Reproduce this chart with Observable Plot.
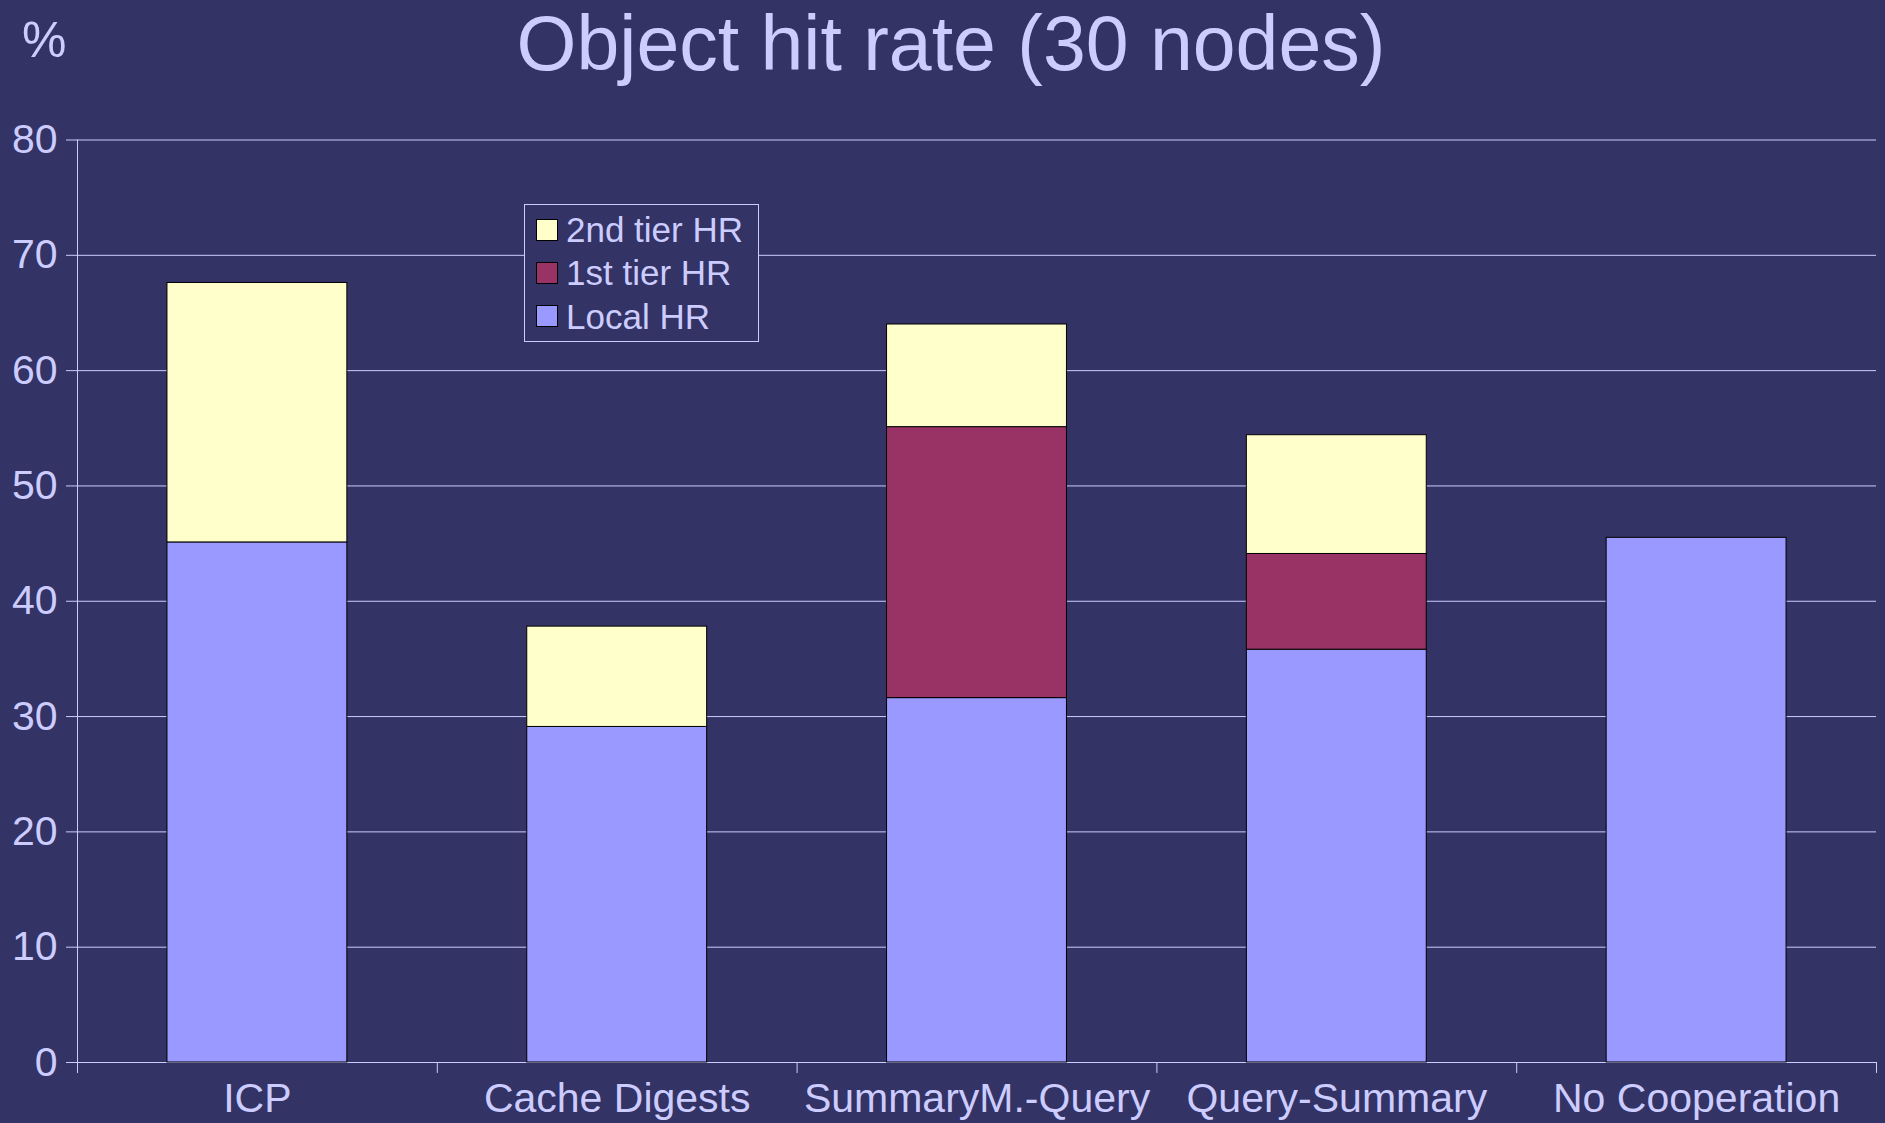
<!DOCTYPE html>
<html><head><meta charset="utf-8">
<script src="https://cdn.jsdelivr.net/npm/d3@7"></script>
<script src="https://cdn.jsdelivr.net/npm/@observablehq/plot@0.6"></script>
<style>
html,body{margin:0;padding:0;background:#333366;}
#wrap{position:relative;width:1885px;height:1123px;overflow:hidden;font-family:"Liberation Sans",Arial,Helvetica,sans-serif;color:#ccccff;}
#chart{position:absolute;left:0;top:0;}
#title{position:absolute;left:0;top:5px;width:1885px;padding-left:17px;box-sizing:border-box;text-align:center;font-size:77px;line-height:77px;white-space:nowrap;}
#unit{position:absolute;left:22px;top:15px;font-size:50px;line-height:50px;}
#legend{position:absolute;left:524px;top:204px;width:235px;height:138px;border:1px solid #ccccff;background:#333366;padding-top:3px;box-sizing:border-box;}
.row{display:flex;align-items:center;height:43.3px;}
.sw{width:20px;height:20px;border:1px solid #000;margin-left:11px;margin-right:8px;}
.lab{font-size:35px;line-height:35px;white-space:nowrap;}
</style></head><body><div id="wrap"><div id="chart"></div><div id="title"></div><div id="unit"></div><div id="legend"></div></div>
<script>
const titleText = "Object hit rate (30 nodes)";
const unitText = "%";
const categories = ["ICP", "Cache Digests", "SummaryM.-Query", "Query-Summary", "No Cooperation"];
const localHR = [45.1, 29.1, 31.6, 35.8, 45.5];
const firstTierHR = [0, 0, 23.5, 8.3, 0];
const secondTierHR = [22.5, 8.7, 8.9, 10.3, 0];
const seriesNames = ["Local HR", "1st tier HR", "2nd tier HR"];
const seriesColors = ["#9999ff", "#993366", "#ffffcc"];
const legendOrder = ["2nd tier HR", "1st tier HR", "Local HR"];
const yTicks = [0, 10, 20, 30, 40, 50, 60, 70, 80];

const W = 1885, H = 1123, mL = 77, mR = 9, mT = 139.5, mB = 61;
const step = (W - mL - mR) / categories.length;
const fg = "#ccccff";

const seriesValues = [localHR, firstTierHR, secondTierHR];
const rows = [];
categories.forEach((c, i) => {
  seriesValues.forEach((arr, j) => {
    if (arr[i] > 0) rows.push({category: c, series: seriesNames[j], value: arr[i]});
  });
});

const chart = Plot.plot({
  width: W, height: H,
  marginLeft: mL, marginRight: mR, marginTop: mT, marginBottom: mB,
  style: {background: "#333366", color: fg, fontFamily: '"Liberation Sans", Arial, Helvetica, sans-serif', overflow: "visible"},
  x: {domain: categories, paddingInner: 0.5, paddingOuter: 0.25, round: false, label: null},
  y: {domain: [0, 80], label: null},
  color: {domain: seriesNames, range: seriesColors},
  marks: [
    Plot.ruleY(yTicks, {stroke: fg, strokeWidth: 1}),
    Plot.barY(rows, {x: "category", y: "value", fill: "series", stroke: "#000", strokeWidth: 1, order: seriesNames}),
    Plot.ruleX(categories, {x: d => d, dx: -step / 2, y1: 0, y2: -0.95, stroke: fg}),
    Plot.ruleX(categories.slice(-1), {x: d => d, dx: step / 2, y1: 0, y2: -0.95, stroke: fg}),
    Plot.ruleX(categories.slice(0, 1), {x: d => d, dx: -step / 2, y1: -0.95, y2: 80, stroke: fg}),
    Plot.axisY({ticks: yTicks, tickSize: 11, tickPadding: 9, fontSize: 41, stroke: fg, fill: fg, label: null}),
    Plot.axisX({tickSize: 0, tickPadding: 20, fontSize: 41, fill: fg, label: null})
  ]
});
document.getElementById("chart").appendChild(chart);
document.getElementById("title").textContent = titleText;
document.getElementById("unit").textContent = unitText;

const leg = document.getElementById("legend");
legendOrder.forEach(name => {
  const row = document.createElement("div");
  row.className = "row";
  const sw = document.createElement("div");
  sw.className = "sw";
  sw.style.background = seriesColors[seriesNames.indexOf(name)];
  const lab = document.createElement("div");
  lab.className = "lab";
  lab.textContent = name;
  row.appendChild(sw); row.appendChild(lab);
  leg.appendChild(row);
});
</script></body></html>
